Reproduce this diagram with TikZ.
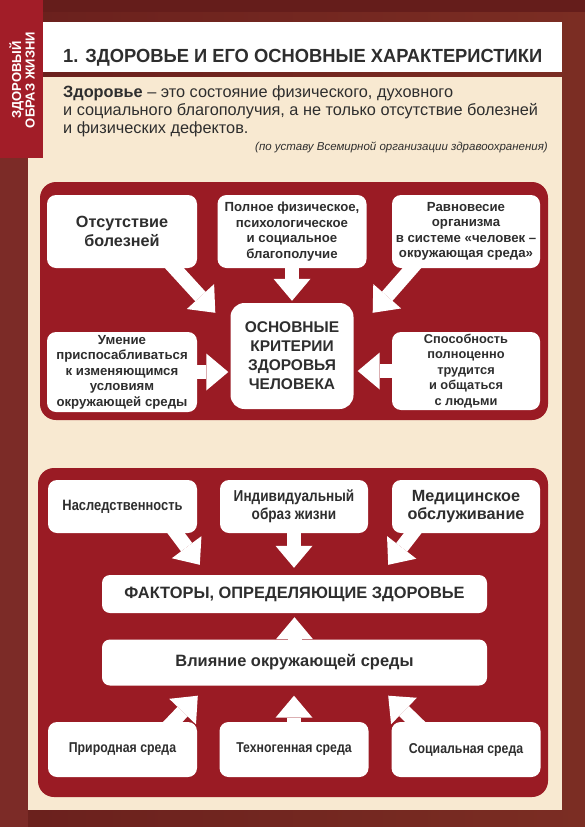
\documentclass[tikz,border=0pt]{standalone}
\usepackage{fontspec}
\setmainfont{Liberation Sans}
\newfontfamily\narrowfont[FakeStretch=0.86]{Liberation Sans}
\newfontfamily\titlefont[FakeStretch=0.965]{Liberation Sans}
\usetikzlibrary{arrows.meta,calc}
\definecolor{frame}{HTML}{73261F}
\definecolor{frameleft}{HTML}{6A201D}
\definecolor{frameright}{HTML}{7B2D23}
\definecolor{framedark}{HTML}{651D1B}
\definecolor{framestrip}{HTML}{7C2B27}
\definecolor{tabred}{HTML}{A21D28}
\definecolor{panelred}{HTML}{9A1B24}
\definecolor{cream}{HTML}{F8E9D1}
\definecolor{txt}{HTML}{2E2E2E}
\tikzset{
  card/.style={fill=white, rounded corners=9pt, text=txt, align=center, inner sep=0pt,
    font=\bfseries\fontsize{13.2}{15.5}\selectfont},
  panel/.style={fill=panelred, rounded corners=16pt},
  bigarr/.style={draw=white, line width=14pt,
    -{Triangle[width=37pt,length=22pt,line width=0pt]}}
}
\begin{document}
\begin{tikzpicture}[x=1pt,y=-1pt]
\useasboundingbox (0,0) rectangle (585,827);
% frame
\shade[left color=frameleft, right color=frameright] (0,0) rectangle (585,827);
\fill[framedark] (43,0) rectangle (585,12);
\fill[framestrip] (0,158) rectangle (28,827);
% cream panel
\fill[cream] (28,77) rectangle (562,810);
% header
\fill[white] (43,22) rectangle (562,72);
% tab
\fill[tabred] (0,0) rectangle (43,158);
\node[rotate=90, text=white, align=center, inner sep=0pt,
  font=\bfseries\fontsize{13}{13.5}\selectfont] (tab) at (22,80) {ЗДОРОВЫЙ\\ОБРАЗ ЖИЗНИ};
% title
\node[anchor=base west, inner sep=0pt, text=txt, font=\titlefont\bfseries\fontsize{19}{24}\selectfont]
  (title) at (63,62) {1. ЗДОРОВЬЕ И ЕГО ОСНОВНЫЕ ХАРАКТЕРИСТИКИ};
% definition
\begin{scope}[every node/.style={anchor=base west, inner sep=0pt, text=txt, font=\fontsize{16.3}{18}\selectfont}]
\node (def1) at (63,97) {\textbf{Здоровье} – это состояние физического, духовного};
\node (def2) at (63,115) {и социального благополучия, а не только отсутствие болезней};
\node (def3) at (63,133) {и физических дефектов.};
\end{scope}
\node[anchor=base east, inner sep=0pt, text=txt, font=\itshape\fontsize{11.5}{13}\selectfont]
  (src) at (548,150) {(по уставу Всемирной организации здравоохранения)};

% ---------- panel 1
\fill[panel] (40,182) rectangle (548,420);
\node[card, minimum width=150pt, minimum height=73pt, font=\bfseries\fontsize{16.2}{19.5}\selectfont]
  (ots) at (122,231.5) {Отсутствие\\болезней};
\node[card, minimum width=149pt, minimum height=73pt] (poln) at (292,231.5)
  {Полное физическое,\\психологическое\\и социальное\\благополучие};
\node[card, minimum width=148pt, minimum height=73pt] (ravn) at (466,231.5)
  {Равновесие\\организма\\в системе «человек –\\окружающая среда»};
\node[card, rounded corners=14pt, minimum width=123pt, minimum height=106pt,
  font=\bfseries\fontsize{15.5}{19}\selectfont] (crit) at (292,356)
  {ОСНОВНЫЕ\\КРИТЕРИИ\\ЗДОРОВЬЯ\\ЧЕЛОВЕКА};
\node[card, minimum width=150pt, minimum height=80pt] (umen) at (122,372)
  {Умение\\приспосабливаться\\к изменяющимся\\условиям\\окружающей среды};
\node[card, minimum width=148pt, minimum height=78pt, font=\bfseries\fontsize{12.8}{15.5}\selectfont] (spos) at (466,371)
  {Способность\\полноценно\\трудится\\и общаться\\с людьми};
\draw[bigarr] ($(ots.south east)+(-30,-8)$) -- ($(crit.north west)+(-15,10)$);
\draw[bigarr] ($(poln.south)+(0,-6)$) -- ($(crit.north)+(0,-2)$);
\draw[bigarr] ($(ravn.south west)+(27,-8)$) -- ($(crit.north east)+(19,10)$);
\draw[bigarr] ($(umen.east)+(-6,0)$) -- ($(crit.west |- umen.east)+(-2,0)$);
\draw[bigarr] ($(spos.west)+(6,0)$) -- ($(crit.east |- spos.west)+(4,0)$);

% ---------- panel 2
\fill[panel] (38,468) rectangle (548,797);
\node[card, minimum width=149pt, minimum height=53pt, font=\narrowfont\bfseries\fontsize{15}{17}\selectfont]
  (nasl) at (122.5,506.5) {Наследственность};
\node[card, minimum width=148pt, minimum height=53pt, font=\narrowfont\bfseries\fontsize{15.8}{18}\selectfont]
  (indiv) at (294,506.5) {Индивидуальный\\образ жизни};
\node[card, minimum width=148pt, minimum height=53pt, font=\bfseries\fontsize{16.2}{18.5}\selectfont]
  (med) at (466,506.5) {Медицинское\\обслуживание};
\node[card, rounded corners=8pt, minimum width=385pt, minimum height=38pt, font=\bfseries\fontsize{16.4}{18}\selectfont]
  (fakt) at (294.5,594) {ФАКТОРЫ, ОПРЕДЕЛЯЮЩИЕ ЗДОРОВЬЕ};
\node[card, rounded corners=8pt, minimum width=385pt, minimum height=46pt, font=\bfseries\fontsize{16.4}{18}\selectfont]
  (vliy) at (294.5,662.5) {Влияние окружающей среды};
\node[card, minimum width=149pt, minimum height=55pt, font=\narrowfont\bfseries\fontsize{14.3}{17}\selectfont]
  (prir) at (122.5,749.5) {Природная среда};
\node[card, minimum width=149pt, minimum height=55pt, font=\narrowfont\bfseries\fontsize{14.3}{17}\selectfont]
  (tehn) at (294,749.5) {Техногенная среда};
\node[card, minimum width=149pt, minimum height=55pt, font=\narrowfont\bfseries\fontsize{14.3}{17}\selectfont]
  (soc) at (466,749.5) {Социальная среда};
\draw[bigarr] ($(nasl.south east)+(-27,-8)$) -- ($(fakt.north west)+(98,-10)$);
\draw[bigarr] ($(indiv.south)+(0,-6)$) -- ($(fakt.north -| indiv.south)+(0,-7)$);
\draw[bigarr] ($(med.south west)+(27,-8)$) -- ($(fakt.north east)+(-99,-10)$);
\draw[bigarr] ($(vliy.north)+(0,6)$) -- ($(fakt.south)+(0,4)$);
\draw[bigarr] ($(prir.north east)+(-32,8)$) -- ($(vliy.south west)+(96,10)$);
\draw[bigarr] ($(tehn.north)+(0,6)$) -- ($(vliy.south -| tehn.north)+(0,10)$);
\draw[bigarr] ($(soc.north west)+(32,8)$) -- ($(vliy.south east)+(-99,10)$);
\end{tikzpicture}
\end{document}
